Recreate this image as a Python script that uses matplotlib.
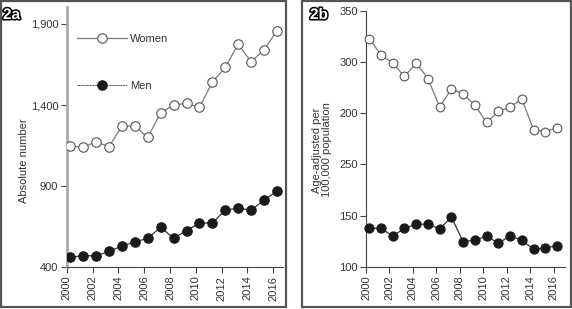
import matplotlib
matplotlib.use("Agg")
import matplotlib.pyplot as plt
import matplotlib.patheffects as pe
from matplotlib.patches import Rectangle
from matplotlib.lines import Line2D

plt.rcParams['font.family'] = ['Liberation Sans', 'DejaVu Sans']

years = list(range(2000, 2017))
women_abs = [1148, 1140, 1174, 1143, 1271, 1271, 1201, 1353, 1401, 1411, 1386,
             1541, 1633, 1775, 1668, 1740, 1857]
men_abs = [462, 472, 470, 499, 531, 556, 579, 647, 579, 626, 673,
           673, 753, 764, 753, 813, 870]
women_rate = [323, 307, 299, 286, 299, 284, 256, 274, 269, 258, 241,
              252, 256, 264, 234, 232, 236]
men_rate = [137.5, 137.5, 130, 137.5, 141.5, 141.5, 137, 148.5, 124.5, 126, 130,
            123, 130, 126, 117, 118.5, 120.5]
ticks_a = [400, 900, 1400, 1900]
ticklabels_a = ['400', '900', '1,400', '1,900']
ticks_b = [100, 150, 200, 250, 300, 350]
ticklabels_b = ['100', '150', '250', '200', '300', '350']
xticks = list(range(2000, 2017, 2))

W, H = 572, 309
fig = plt.figure(figsize=(W / 100, H / 100), dpi=100)

def fx(px):
    return px / W

def fy(py):
    return 1 - py / H

# panel frames
fig.patches.append(Rectangle((fx(1), fy(307)), fx(286) - fx(1), fy(1) - fy(307),
                             transform=fig.transFigure, fill=False,
                             edgecolor='#555555', linewidth=1.6))
fig.patches.append(Rectangle((fx(302), fy(307)), fx(570.5) - fx(302), fy(1) - fy(307),
                             transform=fig.transFigure, fill=False,
                             edgecolor='#555555', linewidth=1.6))

offset = 0.28
xa = [y + offset for y in years]

# ---- Panel a ----
axa = fig.add_axes([fx(66.7), fy(267.3), fx(283) - fx(66.7), fy(7) - fy(267.3)])
axa.set_xlim(2000, 2000 + (283 - 66.7) / 12.91)
axa.set_ylim(400, 1900 + (24 - 7) * 6.165)
axa.plot(xa, women_abs, color='#7a7a7a', lw=0.9, marker='o', ms=6.8,
         mfc='white', mec='#555555', mew=0.8, zorder=3)
axa.plot(xa, men_abs, color='#333333', lw=0.9, marker='o', ms=6.8,
         mfc='#1a1a1a', mec='#1a1a1a', mew=0.8, zorder=3)
axa.set_yticks(ticks_a)
axa.set_yticklabels(ticklabels_a)
axa.set_xticks(xticks)
axa.set_xticklabels([str(x) for x in xticks], rotation=90)
for s in ['top', 'right']:
    axa.spines[s].set_visible(False)
axa.spines['left'].set_color('#aaaaaa')
axa.spines['left'].set_linewidth(2)
axa.spines['bottom'].set_color('#444444')
axa.spines['bottom'].set_linewidth(0.8)
axa.tick_params(axis='both', direction='out', length=4, width=0.8,
                color='#444444', labelsize=8, labelcolor='#333333', pad=2)
axa.patch.set_alpha(0)

h_w = Line2D([], [], color='#7a7a7a', lw=0.9, marker='o', ms=6.8,
             mfc='white', mec='#555555', mew=0.8)
h_m = Line2D([], [], color='#333333', lw=0.7, ls=(0, (1, 0.6)), marker='o', ms=6.8,
             mfc='#1a1a1a', mec='#1a1a1a', mew=0.8)
leg = axa.legend([h_w, h_m], ['Women', 'Men'], loc='upper left',
                 bbox_to_anchor=(fx(77), fy(34)), bbox_transform=fig.transFigure,
                 frameon=False, fontsize=8, handlelength=4.5, handletextpad=0.3,
                 labelspacing=3.3, borderpad=0, borderaxespad=0)
for t in leg.get_texts():
    t.set_color('#333333')

fig.text(fx(24), fy(161), 'Absolute number', rotation=90, ha='center', va='center',
         fontsize=8, color='#333333')

# ---- Panel b ----
axb = fig.add_axes([fx(366), fy(266.7), fx(565) - fx(366), fy(11) - fy(266.7)])
axb.set_xlim(2000, 2000 + (565 - 366) / 11.73)
axb.set_ylim(100, 350)
axb.plot(xa, women_rate, color='#7a7a7a', lw=0.9, marker='o', ms=6.3,
         mfc='white', mec='#555555', mew=0.8, zorder=3, clip_on=False)
axb.plot(xa, men_rate, color='#333333', lw=0.9, marker='o', ms=6.6,
         mfc='#1a1a1a', mec='#1a1a1a', mew=0.8, zorder=3, clip_on=False)
axb.set_yticks(ticks_b)
axb.set_yticklabels(ticklabels_b)
axb.set_xticks(xticks)
axb.set_xticklabels([str(x) for x in xticks], rotation=90)
for s in ['top', 'right']:
    axb.spines[s].set_visible(False)
axb.spines['left'].set_color('#444444')
axb.spines['left'].set_linewidth(0.8)
axb.spines['bottom'].set_color('#444444')
axb.spines['bottom'].set_linewidth(0.8)
axb.tick_params(axis='both', direction='out', length=4, width=0.8,
                color='#444444', labelsize=8, labelcolor='#333333', pad=2)
axb.patch.set_alpha(0)

fig.text(fx(322), fy(150), 'Age-adjusted per\n100,000 population', rotation=90,
         ha='center', va='center', fontsize=8, color='#333333', linespacing=1.0)

# panel labels
for x, lab in [(3, '2a'), (310, '2b')]:
    fig.text(fx(x), fy(19), lab, fontsize=11, fontweight='bold', color='white',
             ha='left', va='baseline',
             path_effects=[pe.withStroke(linewidth=2.2, foreground='black')])

fig.savefig('out.png', dpi=100)
